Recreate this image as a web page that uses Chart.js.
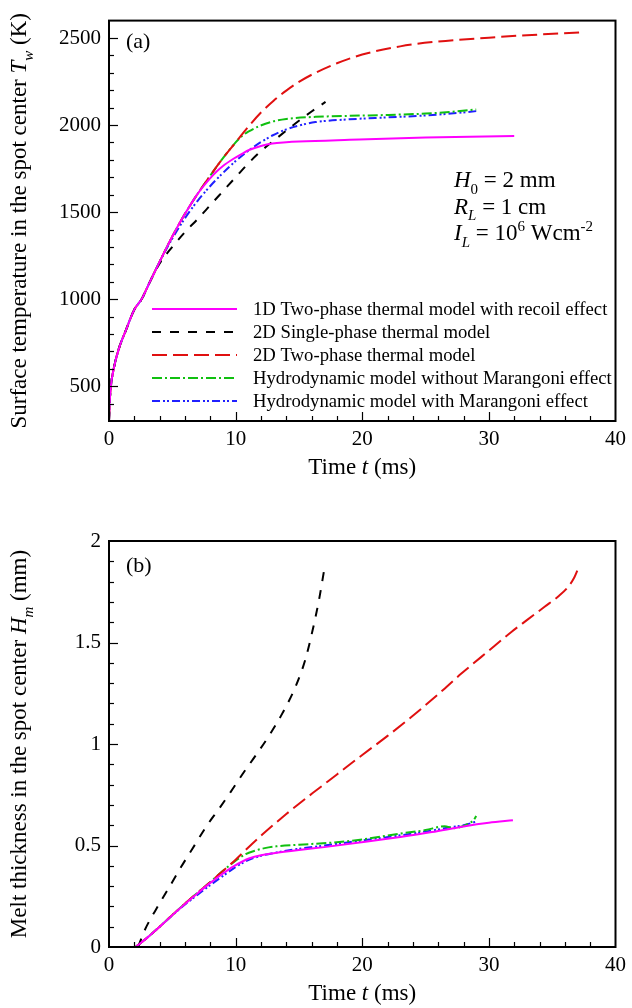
<!DOCTYPE html>
<html><head><meta charset="utf-8">
<script src="https://cdn.jsdelivr.net/npm/chart.js@4"></script>
<style>
html,body{margin:0;padding:0;background:#fff;}
.w{position:relative;width:632px;height:504px;}
canvas{display:block;}
</style>
</head><body>
<div class="w"><canvas id="ca" width="632" height="504"></canvas></div>
<div class="w"><canvas id="cb" width="632" height="504"></canvas></div>
<script>
const FONT = '"Liberation Serif", "Times New Roman", serif';

// ---- tick labels ----
const X_TICKS = [0, 10, 20, 30, 40];
const A_Y_TICKS = [500, 1000, 1500, 2000, 2500];
const B_Y_TICKS = [0, 0.5, 1, 1.5, 2];

const LABELS = [
  '1D Two-phase thermal model with recoil effect',
  '2D Single-phase thermal model',
  '2D Two-phase thermal model',
  'Hydrodynamic model without Marangoni effect',
  'Hydrodynamic model with Marangoni effect'
];

// ---- (a) surface temperature (K) vs time (ms) ----
const A_1D_T = [0,0.05,0.15,0.4,0.8,1.3,2,2.6,3.2,4,5,6,7,8,8.5,9,9.8,10.5,11.1,12,12.9,14,15,19,25,32];
const A_1D_V = [300,400,500,610,720,815,940,1003,1095,1215,1360,1490,1605,1695,1733,1765,1805,1835,1858,1880,1894,1901,1905,1915,1928,1937];

const A_2DS_T = [0,0.05,0.15,0.4,0.8,1.3,2,2.6,3.2,4,5,6,7,8,9,10,11,12,13,14,15,16,17.1];
const A_2DS_V = [300,400,500,610,720,815,940,1003,1095,1205,1300,1385,1460,1540,1620,1700,1780,1850,1910,1968,2025,2078,2133];

const A_2DT_T = [0,0.05,0.15,0.4,0.8,1.3,2,2.6,3.2,4,5,6,7,8,9,10,11,12,13,14,15,16.3,18,20,23,26,30,33,37.2];
const A_2DT_V = [300,400,500,610,720,815,940,1003,1095,1215,1360,1490,1605,1710,1810,1900,1990,2072,2140,2198,2248,2300,2355,2405,2452,2480,2502,2516,2532];

const A_HN_T = [0,0.05,0.15,0.4,0.8,1.3,2,2.6,3.2,4,5,6,7,8,9,10,10.5,11,11.9,12.9,14,16.3,19,22,25,27,29];
const A_HN_V = [300,400,500,610,720,815,940,1003,1095,1215,1360,1490,1605,1710,1810,1900,1937,1962,1995,2020,2035,2047,2053,2058,2066,2076,2090];

const A_HM_T = [0,0.05,0.15,0.4,0.8,1.3,2,2.6,3.2,4,5,6,7,8,9,10,11,12,12.9,14,15,16.3,19,22,25,27,29];
const A_HM_V = [300,400,500,610,720,815,940,1003,1095,1215,1348,1465,1565,1650,1725,1793,1852,1902,1940,1975,1997,2017,2033,2044,2055,2066,2080];

// ---- (b) melt thickness (mm) vs time (ms) ----
const B_1D_T = [2.1,3,4,5,6,7,8,9,9.8,10.5,11.1,12,13,15,17,20.25,23,25.5,28,30,31.9];
const B_1D_V = [0,0.045,0.1,0.157,0.212,0.265,0.316,0.362,0.396,0.42,0.437,0.452,0.462,0.478,0.492,0.518,0.542,0.566,0.594,0.612,0.624];

const B_2DS_T = [2.3,2.8,3.9,5,5.7,6.6,7.7,8.7,9.6,10.55,11.6,12.65,13.7,14.75,15.5,16.06,16.6,17];
const B_2DS_V = [0,0.08,0.205,0.32,0.395,0.485,0.595,0.682,0.763,0.852,0.945,1.042,1.152,1.285,1.415,1.555,1.715,1.86];

const B_2DT_T = [2.1,3,4,5,6,7,8,9,10,11,12.13,14,16.06,18,20,22,23.9,26,27.85,30,31.8,33,34.4,35.5,36.2,36.7,37.15];
const B_2DT_V = [0,0.045,0.1,0.158,0.214,0.268,0.32,0.375,0.43,0.49,0.555,0.655,0.757,0.85,0.946,1.04,1.134,1.245,1.348,1.46,1.553,1.61,1.676,1.728,1.77,1.815,1.88];

const B_HN_T = [2.1,3,4,5,6,7,8,9,10,10.8,11.5,12.3,13.2,15,17.6,20,22.9,25,26.5,27.2,27.8,28.5,28.8,29];
const B_HN_V = [0,0.045,0.1,0.158,0.214,0.268,0.32,0.375,0.425,0.458,0.474,0.487,0.496,0.504,0.514,0.53,0.558,0.576,0.595,0.585,0.592,0.612,0.625,0.645];

const B_HM_T = [2.1,3,4,5,6,7,8,9,10,11,12,13,15,17,20.25,23,25.5,27,28,29];
const B_HM_V = [0,0.045,0.1,0.156,0.209,0.258,0.305,0.35,0.394,0.428,0.449,0.463,0.484,0.5,0.527,0.55,0.574,0.59,0.6,0.618];

// ---- styles ----
const STYLES = [
  {color:'#ff00ff', dash:[]},
  {color:'#000000', dash:[9,9]},
  {color:'#e01010', dash:[15,6]},
  {color:'#10c010', dash:[10,3,2,3]},
  {color:'#2020ff', dash:[8,3,2,2,2,3]}
];

function setFont(ctx, p, size){
  const s = (p.sub || p.sup) ? Math.round(size*0.66) : size;
  ctx.font = (p.i ? 'italic ' : '') + s + 'px ' + FONT;
}
function measureRich(ctx, parts, size){
  let w = 0;
  for (const p of parts){ setFont(ctx, p, size); w += ctx.measureText(p.t).width; }
  return w;
}
function drawRich(ctx, parts, x, y, size){
  let cx = x;
  ctx.textBaseline = 'alphabetic';
  ctx.textAlign = 'left';
  for (const p of parts){
    setFont(ctx, p, size);
    const dy = p.sub ? size*0.3 : (p.sup ? -size*0.4 : 0);
    ctx.fillText(p.t, cx, y + dy);
    cx += ctx.measureText(p.t).width;
  }
}

function decor(cfg){
  return {
    id: 'decor' + cfg.id,
    afterDraw(chart){
      const ctx = chart.ctx;
      const a = chart.chartArea;
      const xs = chart.scales.x, ys = chart.scales.y;
      ctx.save();
      ctx.fillStyle = '#000';
      ctx.strokeStyle = '#000';
      // ticks (inward)
      ctx.lineWidth = 1.2;
      ctx.setLineDash([]);
      for (let v = 0; v <= 40 + 1e-9; v += 2){
        if (v === 0 || v === 40) continue;
        const px = Math.round(xs.getPixelForValue(v)) + 0.5;
        const len = (Math.abs(v % 10) < 1e-9) ? 9 : 5;
        ctx.beginPath(); ctx.moveTo(px, a.bottom); ctx.lineTo(px, a.bottom - len); ctx.stroke();
      }
      const n = Math.round((cfg.ymax - cfg.ymin) / cfg.minor);
      for (let k = 1; k < n; k++){
        const v = cfg.ymin + k*cfg.minor;
        const py = Math.round(ys.getPixelForValue(v)) + 0.5;
        const isMajor = cfg.yticks.some(t => Math.abs(t - v) < cfg.minor*0.01);
        const len = isMajor ? 9 : 5;
        ctx.beginPath(); ctx.moveTo(a.left, py); ctx.lineTo(a.left + len, py); ctx.stroke();
      }
      // frame
      ctx.lineWidth = 2;
      ctx.strokeRect(a.left, a.top, a.right - a.left, a.bottom - a.top);
      // x title
      const xt = [{t:'Time '},{t:'t',i:1},{t:' (ms)'}];
      const wx = measureRich(ctx, xt, 23);
      drawRich(ctx, xt, (a.left + a.right)/2 - wx/2, cfg.xTitleBase, 23);
      // y title
      const wy = measureRich(ctx, cfg.yTitle, 23);
      ctx.save();
      ctx.translate(19, (a.top + a.bottom)/2);
      ctx.rotate(-Math.PI/2);
      drawRich(ctx, cfg.yTitle, -wy/2, 7, 23);
      ctx.restore();
      // panel label
      drawRich(ctx, [{t:cfg.panel}], a.left + 17, a.top + cfg.panelOff, 22);
      // annotation
      if (cfg.note){
        cfg.note.forEach((line, i) => drawRich(ctx, line, 454, 187 + i*26.5, 23));
      }
      // legend
      if (cfg.legend){
        chart.data.datasets.forEach((ds, i) => {
          const y = 309 + i*23;
          ctx.strokeStyle = ds.borderColor;
          ctx.lineWidth = 2;
          ctx.setLineDash(ds.borderDash || []);
          ctx.beginPath(); ctx.moveTo(152, y); ctx.lineTo(237, y); ctx.stroke();
          ctx.setLineDash([]);
          ctx.fillStyle = '#000';
          ctx.font = '18.7px ' + FONT;
          ctx.textBaseline = 'middle';
          ctx.textAlign = 'left';
          ctx.fillText(ds.label, 253, y + 1);
        });
      }
      ctx.restore();
    }
  };
}

function makeChart(id, cfg){
  const datasets = cfg.series.map((s, i) => ({
    label: LABELS[i],
    data: s.t.map((t, j) => ({x: t, y: s.v[j]})),
    borderColor: STYLES[i].color,
    borderDash: STYLES[i].dash,
    borderWidth: 2,
    pointRadius: 0,
    fill: false,
    cubicInterpolationMode: 'monotone'
  }));
  return new Chart(document.getElementById(id), {
    type: 'line',
    data: {datasets},
    options: {
      responsive: false,
      animation: false,
      events: [],
      layout: {padding: {left: 0, right: 14, top: cfg.padTop, bottom: 0}},
      plugins: {legend: {display: false}, tooltip: {enabled: false}},
      scales: {
        x: {
          type: 'linear', min: 0, max: 40,
          afterBuildTicks: s => { s.ticks = X_TICKS.map(v => ({value: v})); },
          afterFit: s => { s.height = cfg.xh; },
          grid: {display: false, drawTicks: false},
          border: {display: false},
          ticks: {font: {family: FONT, size: 21}, color: '#000', padding: 6, maxRotation: 0, autoSkip: false, callback: v => String(v)}
        },
        y: {
          type: 'linear', min: cfg.ymin, max: cfg.ymax,
          afterBuildTicks: s => { s.ticks = cfg.yticks.map(v => ({value: v})); },
          afterFit: s => { s.width = 109; },
          grid: {display: false, drawTicks: false},
          border: {display: false},
          ticks: {font: {family: FONT, size: 21}, color: '#000', padding: 8, autoSkip: false, callback: v => String(v)}
        }
      }
    },
    plugins: [decor(cfg)]
  });
}

makeChart('ca', {
  id: 'a', padTop: 13, xh: 83, ymin: 300, ymax: 2600, minor: 100, yticks: A_Y_TICKS,
  xTitleBase: 474, panel: '(a)', panelOff: 27, legend: true,
  yTitle: [{t:'Surface temperature in the spot center '},{t:'T',i:1},{t:'w',i:1,sub:1},{t:' (K)'}],
  note: [
    [{t:'H',i:1},{t:'0',sub:1},{t:' = 2 mm'}],
    [{t:'R',i:1},{t:'L',i:1,sub:1},{t:' = 1 cm'}],
    [{t:'I',i:1},{t:'L',i:1,sub:1},{t:' = 10'},{t:'6',sup:1},{t:' Wcm'},{t:'-2',sup:1}]
  ],
  series: [
    {t: A_1D_T, v: A_1D_V},
    {t: A_2DS_T, v: A_2DS_V},
    {t: A_2DT_T, v: A_2DT_V},
    {t: A_HN_T, v: A_HN_V},
    {t: A_HM_T, v: A_HM_V}
  ]
});

makeChart('cb', {
  id: 'b', padTop: 37, xh: 61, ymin: 0, ymax: 2, minor: 0.1, yticks: B_Y_TICKS,
  xTitleBase: 496, panel: '(b)', panelOff: 31, legend: false,
  yTitle: [{t:'Melt thickness in the spot center '},{t:'H',i:1},{t:'m',i:1,sub:1},{t:' (mm)'}],
  note: null,
  series: [
    {t: B_1D_T, v: B_1D_V},
    {t: B_2DS_T, v: B_2DS_V},
    {t: B_2DT_T, v: B_2DT_V},
    {t: B_HN_T, v: B_HN_V},
    {t: B_HM_T, v: B_HM_V}
  ]
});
</script>
</body></html>
